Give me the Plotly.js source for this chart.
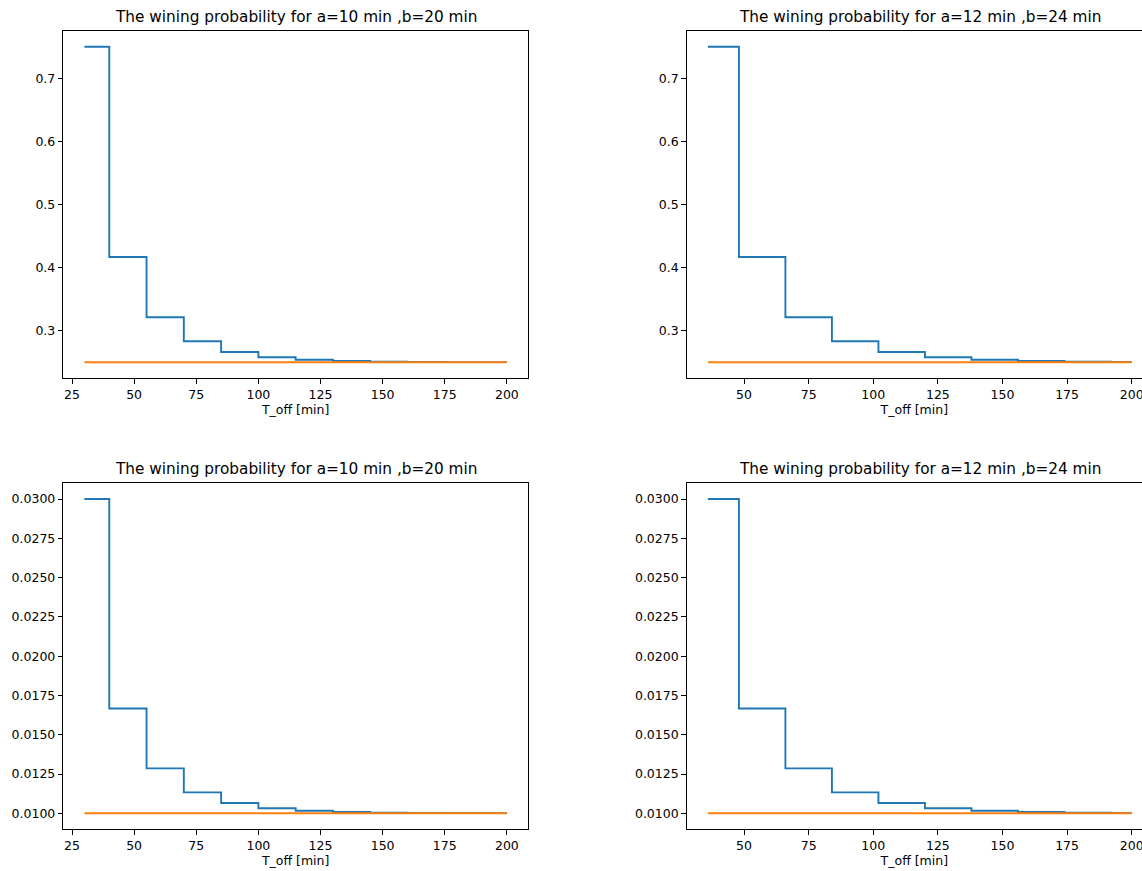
<!DOCTYPE html>
<html>
<head>
<meta charset="utf-8">
<script src="https://cdn.plot.ly/plotly-3.0.1.min.js"></script>
<style>html,body{margin:0;padding:0;background:#fff;}#chart{width:1142px;height:871px;}</style>
</head>
<body>
<div id="chart"></div>
<script>
// Step edges (T_off, minutes)
const xLeft  = [30, 40, 55, 70, 85, 100, 115, 130, 145, 160, 175, 190, 200];
const xRight = [36, 48, 66, 84, 102, 120, 138, 156, 174, 192, 200];

// Winning probability per step (top row)
const probTopLeft  = [0.750, 0.4167, 0.3214, 0.2833, 0.2661, 0.2579, 0.2539, 0.2520, 0.2510, 0.2505, 0.2502, 0.2501, 0.2501];
const probTopRight = [0.750, 0.4167, 0.3214, 0.2833, 0.2661, 0.2579, 0.2539, 0.2520, 0.2510, 0.2505, 0.2505];
const baseTop = 0.25;

// Winning probability per step (bottom row)
const probBotLeft  = [0.0300, 0.01667, 0.01286, 0.01133, 0.01065, 0.01032, 0.01016, 0.01008, 0.01004, 0.01002, 0.01001, 0.01001, 0.01001];
const probBotRight = [0.0300, 0.01667, 0.01286, 0.01133, 0.01065, 0.01032, 0.01016, 0.01008, 0.01004, 0.01002, 0.01002];
const baseBot = 0.01;

const titles = ["The wining probability for a=10 min ,b=20 min",
                "The wining probability for a=12 min ,b=24 min",
                "The wining probability for a=10 min ,b=20 min",
                "The wining probability for a=12 min ,b=24 min"];
const xLabel = "T_off [min]";

const BLUE = "#1f77b4", ORANGE = "#ff7f0e";
const LW = 1.9;
const W = 1142, H = 871;

function stepTrace(x, y, xa, ya) {
  return {x: x, y: y, xaxis: xa, yaxis: ya, type: "scatter", mode: "lines",
          line: {color: BLUE, width: LW, shape: "hv"}, showlegend: false, hoverinfo: "x+y"};
}
function baseTrace(x, b, xa, ya) {
  return {x: [x[0], x[x.length - 1]], y: [b, b], xaxis: xa, yaxis: ya, type: "scatter", mode: "lines",
          line: {color: ORANGE, width: LW}, showlegend: false, hoverinfo: "x+y"};
}

const data = [
  stepTrace(xLeft, probTopLeft, "x", "y"),   baseTrace(xLeft, baseTop, "x", "y"),
  stepTrace(xRight, probTopRight, "x2", "y2"), baseTrace(xRight, baseTop, "x2", "y2"),
  stepTrace(xLeft, probBotLeft, "x3", "y3"),  baseTrace(xLeft, baseBot, "x3", "y3"),
  stepTrace(xRight, probBotRight, "x4", "y4"), baseTrace(xRight, baseBot, "x4", "y4")
];

const FONT = "DejaVu Sans, sans-serif";
const tickFont = {family: FONT, size: 12.5, color: "#000"};

// pixel geometry -> paper fractions
const leftDom  = [63.3 / W, 528 / W];
const rightDom = [686.7 / W, 1];
const topDom   = [1 - 378 / H, 1 - 31 / H];
const botDom   = [1 - 829 / H, 1 - 483.3 / H];

function xax(dom, range, anchor, mirror) {
  return {domain: dom, range: range, anchor: anchor, dtick: 25, tick0: 0,
          showgrid: false, zeroline: false, showline: true, linecolor: "#000", linewidth: 1,
          mirror: mirror, ticks: "outside", ticklen: 4.5, tickwidth: 1, tickcolor: "#000",
          tickfont: tickFont, automargin: false, ticklabeloverflow: "allow",
          title: {text: xLabel, font: {family: FONT, size: 12.5, color: "#000"}, standoff: 4}};
}
function yax(dom, range, anchor, mirror, dtick, fmt) {
  return {domain: dom, range: range, anchor: anchor, dtick: dtick, tick0: 0, tickformat: fmt,
          showgrid: false, zeroline: false, showline: true, linecolor: "#000", linewidth: 1,
          mirror: mirror, ticks: "outside", ticklen: 4.5, tickwidth: 1, tickcolor: "#000",
          tickfont: tickFont, automargin: false};
}

const xrL = [21.5, 208.5];
const xrR = [27.8, 204.0];
const yrT = [0.225, 0.775];
const yrB = [0.009, 0.031];

const annotations = [];
const doms = [[leftDom, topDom], [rightDom, topDom], [leftDom, botDom], [rightDom, botDom]];
doms.forEach(function (d, i) {
  const cx = (i % 2 === 0) ? (d[0][0] + d[0][1]) / 2 : (686.7 + 466 / 2) / W;
  annotations.push({text: titles[i], xref: "paper", yref: "paper", x: cx, y: d[1][1],
                    xanchor: "center", yanchor: "bottom", yshift: 3, showarrow: false,
                    font: {family: FONT, size: 15.3, color: "#000"}});
});

const layout = {
  width: W, height: H,
  margin: {l: 0, r: 0, t: 0, b: 0, pad: 0},
  paper_bgcolor: "#fff", plot_bgcolor: "#fff",
  showlegend: false,
  font: {family: FONT, color: "#000"},
  xaxis:  xax(leftDom,  xrL, "y",  true),
  yaxis:  yax(topDom,   yrT, "x",  true, 0.1, ".1f"),
  xaxis2: xax(rightDom, xrR, "y2", true),
  yaxis2: yax(topDom,   yrT, "x2", false, 0.1, ".1f"),
  xaxis3: xax(leftDom,  xrL, "y3", true),
  yaxis3: yax(botDom,   yrB, "x3", true, 0.0025, ".4f"),
  xaxis4: xax(rightDom, xrR, "y4", true),
  yaxis4: yax(botDom,   yrB, "x4", false, 0.0025, ".4f"),
  annotations: annotations
};

Plotly.newPlot("chart", data, layout, {displayModeBar: false, staticPlot: true});
</script>
</body>
</html>
